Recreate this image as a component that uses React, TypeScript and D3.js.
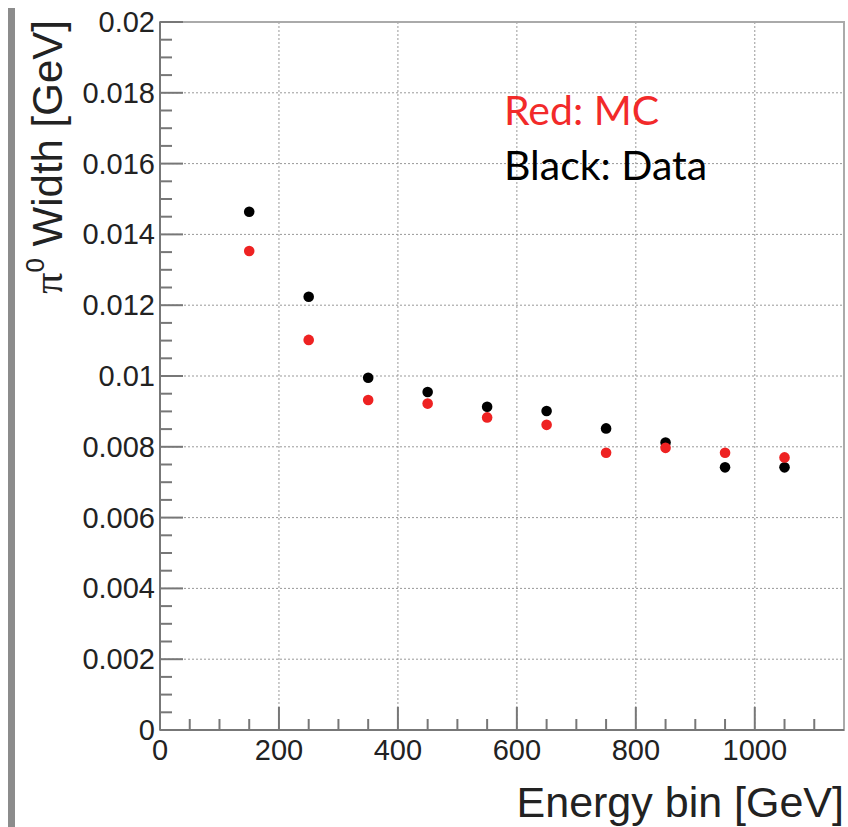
import React from "react";
import * as d3 from "d3";

const energyBins = [150, 250, 350, 450, 550, 650, 750, 850, 950, 1050];
const dataWidth = [0.01464, 0.01224, 0.00995, 0.00955, 0.00913, 0.00901, 0.00852, 0.00812, 0.00742, 0.00742];
const mcWidth = [0.01353, 0.01102, 0.00932, 0.00922, 0.00883, 0.00862, 0.00783, 0.00797, 0.00783, 0.0077];
const xMajorTicks = [0, 200, 400, 600, 800, 1000];
const yMajorTicks = [0, 0.002, 0.004, 0.006, 0.008, 0.01, 0.012, 0.014, 0.016, 0.018, 0.02];
const yTickLabels = ["0", "0.002", "0.004", "0.006", "0.008", "0.01", "0.012", "0.014", "0.016", "0.018", "0.02"];

const W = 848;
const H = 827;
const L = 160, R = 844, T = 22, B = 730;

export default function App() {
  const x = d3.scaleLinear().domain([0, 1150]).range([L, R]);
  const y = d3.scaleLinear().domain([0, 0.02]).range([B, T]);
  const xMinor = d3.range(0, 1150, 50).filter((v) => v % 200 !== 0);
  const yMinor = d3.range(0, 40).map((i) => i * 0.0005).filter((v, i) => i % 4 !== 0);
  const font = "'Liberation Sans', Arial, Helvetica, sans-serif";
  const axisCol = "#777";
  return (
    <svg width={W} height={H} style={{ position: "absolute", left: 0, top: 0 }}>
      <rect x={0} y={0} width={W} height={H} fill="#fff" />
      <rect x={8} y={8} width={7} height={H - 8} fill="#8c8c8c" />
      {/* grid */}
      {xMajorTicks.filter((v) => v > 0).map((v) => (
        <line key={"gx" + v} x1={x(v)} x2={x(v)} y1={T} y2={B} stroke="#999" strokeWidth={1} strokeDasharray="2,2" />
      ))}
      {yMajorTicks.filter((v) => v > 0 && v < 0.02).map((v) => (
        <line key={"gy" + v} x1={L} x2={R} y1={y(v)} y2={y(v)} stroke="#999" strokeWidth={1} strokeDasharray="2,2" />
      ))}
      {/* frame */}
      <rect x={L} y={T} width={R - L} height={B - T} fill="none" stroke="#aaa" strokeWidth={2} />
      <line x1={L} x2={L} y1={T} y2={B} stroke={axisCol} strokeWidth={2} />
      <line x1={L} x2={R} y1={B} y2={B} stroke={axisCol} strokeWidth={2} />
      {/* ticks */}
      {xMajorTicks.map((v) => (
        <line key={"xt" + v} x1={x(v)} x2={x(v)} y1={B} y2={B - 23} stroke={axisCol} strokeWidth={2} />
      ))}
      {xMinor.map((v) => (
        <line key={"xm" + v} x1={x(v)} x2={x(v)} y1={B} y2={B - 11} stroke={axisCol} strokeWidth={2} />
      ))}
      {yMajorTicks.map((v) => (
        <line key={"yt" + v} x1={L} x2={L + 23} y1={y(v)} y2={y(v)} stroke={axisCol} strokeWidth={2} />
      ))}
      {yMinor.map((v) => (
        <line key={"ym" + v} x1={L} x2={L + 12} y1={y(v)} y2={y(v)} stroke={axisCol} strokeWidth={2} />
      ))}
      {/* tick labels */}
      {yMajorTicks.map((v, i) => (
        <text key={"yl" + v} x={L - 5} y={y(v) + 10} textAnchor="end" fontFamily={font} fontSize={29} fill="#222">
          {yTickLabels[i]}
        </text>
      ))}
      {xMajorTicks.map((v) => (
        <text key={"xl" + v} x={x(v)} y={B + 30} textAnchor="middle" fontFamily={font} fontSize={29} fill="#222">
          {String(v)}
        </text>
      ))}
      {/* axis titles */}
      <text x={R} y={817} textAnchor="end" fontFamily={font} fontSize={43} fill="#222">
        Energy bin [GeV]
      </text>
      <text transform="translate(62,20) rotate(-90)" textAnchor="end" fontFamily={font} fontSize={42} fill="#222">
        <tspan fontFamily="'Liberation Serif', 'DejaVu Serif', serif">π</tspan>
        <tspan fontSize={26} dy={-18}>0</tspan>
        <tspan dy={18}> Width [GeV]</tspan>
      </text>
      {/* points */}
      {energyBins.map((e, i) => (
        <circle key={"d" + e} cx={x(e)} cy={y(dataWidth[i])} r={5.3} fill="#000" />
      ))}
      {energyBins.map((e, i) => (
        <circle key={"m" + e} cx={x(e)} cy={y(mcWidth[i])} r={5.3} fill="#ee2222" />
      ))}
      {/* legend */}
      <text x={504} y={125} fontFamily="Lato, 'Open Sans', sans-serif" fontSize={41} fill="#f22a2a">
        Red: MC
      </text>
      <text x={504} y={180} fontFamily="Lato, 'Open Sans', sans-serif" fontSize={41} fill="#000">
        Black: Data
      </text>
    </svg>
  );
}
